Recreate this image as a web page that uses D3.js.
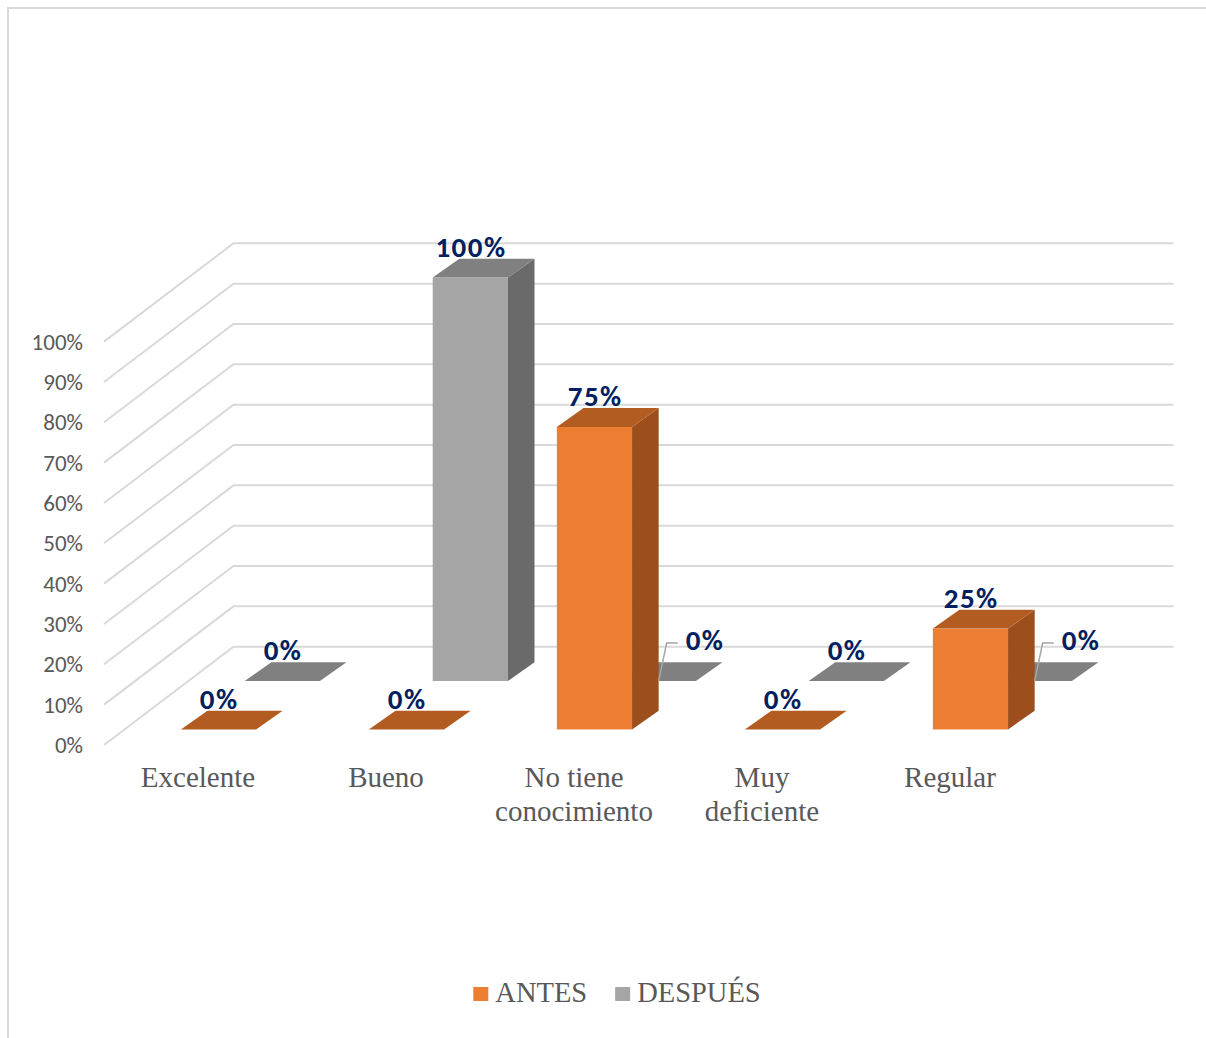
<!DOCTYPE html>
<html>
<head>
<meta charset="utf-8">
<script src="https://cdn.jsdelivr.net/npm/d3@7"></script>
<style>
  html, body { margin: 0; padding: 0; background: #ffffff; }
  svg { display: block; }
</style>
</head>
<body>
<svg id="chart" width="1206" height="1038"></svg>
<script>
// ---- data ----
const categories = ["Excelente", "Bueno", "No tiene conocimiento", "Muy deficiente", "Regular"];
const seriesNames = ["ANTES", "DESPUÉS"];
const antes   = [0, 0, 0.75, 0, 0.25];
const despues = [0, 1, 0, 0, 0];
const tickValues = [0, 0.1, 0.2, 0.3, 0.4, 0.5, 0.6, 0.7, 0.8, 0.9, 1.0];

// ---- look ----
const palette = {
  ANTES:   { front: "#ED7D31", side: "#9C4F1D", top: "#B35C22" },
  "DESPUÉS": { front: "#A5A5A5", side: "#6A6A6A", top: "#808080" }
};
const gridColor = "#D9D9D9";
const axisText = "#595959";
const valueText = "#002060";
const serif = "'Liberation Serif', 'Times New Roman', serif";
const sans = "Carlito, Calibri, Lato, sans-serif";

// ---- 3D frame (oblique projection) ----
const floorFrontY = 745;              // front edge of the floor
const floorX = [104, 1044];           // front edge extent
const depth = [129.5, -98.3];         // front edge -> back wall
const barDepth = [26.6, -18.8];       // thickness of each column
const rowZ = { ANTES: 0.158, "DESPUÉS": 0.651 };  // series rows, fraction of depth

const svg = d3.select("#chart");

// chart frame (runs off the right and bottom edges)
svg.append("rect")
  .attr("x", 8).attr("y", 8).attr("width", 1300).attr("height", 1100)
  .attr("fill", "#fff").attr("stroke", gridColor).attr("stroke-width", 2);

const x = d3.scaleBand().domain(categories).range(floorX)
  .paddingInner(0.6).paddingOuter(0.3);
const h = d3.scaleLinear().domain([0, 1]).range([0, 403.4]);

const proj = (xf, v, z) => [xf + z * depth[0], floorFrontY + z * depth[1] - h(v)];

// ---- walls: gridlines on back wall and left side wall ----
const grid = svg.append("g");
tickValues.forEach(t => {
  const front = proj(floorX[0], t, 0);
  const back = proj(floorX[0], t, 1);
  const backRight = proj(floorX[1], t, 1);
  grid.append("path")
    .attr("d", d3.line()([front, back, backRight]))
    .attr("fill", "none").attr("stroke", gridColor).attr("stroke-width", 2);
  grid.append("text")
    .attr("x", front[0] - 21).attr("y", front[1])
    .attr("dy", "0.35em").attr("text-anchor", "end")
    .attr("font-family", sans).attr("font-size", 23).attr("fill", axisText)
    .text(d3.format(".0%")(t));
});

// ---- columns ----
const seriesValues = { ANTES: antes, "DESPUÉS": despues };
function barGeom(series, i) {
  const v = seriesValues[series][i];
  const [x0, yb] = proj(x(categories[i]), 0, rowZ[series]);
  const w = x.bandwidth();
  const yt = yb - h(v);
  return { v, x0, x1: x0 + w, yb, yt, w };
}

function drawColumn(g, series, i) {
  const b = barGeom(series, i);
  const c = palette[series];
  const [dx, dy] = barDepth;
  if (b.v > 0) {
    g.append("rect").attr("x", b.x0).attr("y", b.yt).attr("width", b.w).attr("height", b.yb - b.yt)
      .attr("fill", c.front);
    g.append("path").attr("d", d3.line()([[b.x1, b.yb], [b.x1 + dx, b.yb + dy], [b.x1 + dx, b.yt + dy], [b.x1, b.yt]]) + "Z")
      .attr("fill", c.side);
  }
  g.append("path").attr("d", d3.line()([[b.x0, b.yt], [b.x0 + dx, b.yt + dy], [b.x1 + dx, b.yt + dy], [b.x1, b.yt]]) + "Z")
    .attr("fill", c.top);
}

const bars = svg.append("g");
// back row first, then front row
["DESPUÉS", "ANTES"].forEach(s => categories.forEach((_, i) => drawColumn(bars, s, i)));

// ---- value labels ----
const labels = svg.append("g")
  .attr("font-family", sans).attr("font-weight", "bold").attr("font-size", 29)
  .attr("letter-spacing", 1.5).attr("fill", valueText);
const pct = d3.format(".0%");
seriesNames.forEach(s => {
  categories.forEach((cat, i) => {
    const b = barGeom(s, i);
    const hidden = s === "DESPUÉS" && b.v === 0 && antes[i] > 0;
    if (hidden) {
      // label pulled out to the right with a leader line
      const front = barGeom("ANTES", i);
      const start = [front.x1 + barDepth[0], b.yb];
      const elbow = [start[0] + 8, start[1] - 38];
      const end = [elbow[0] + 11, elbow[1]];
      labels.append("path").attr("d", d3.line()([start, elbow, end]))
        .attr("fill", "none").attr("stroke", "#A6A6A6").attr("stroke-width", 1.5);
      labels.append("text").attr("x", end[0] + 8).attr("y", end[1] - 3).attr("dy", "0.35em")
        .text(pct(b.v));
    } else {
      labels.append("text")
        .attr("x", b.x0 + b.w / 2 + 0.75).attr("y", b.yt + barDepth[1] - 2)
        .attr("text-anchor", "middle")
        .text(pct(b.v));
    }
  });
});

// ---- category labels (wrapped) ----
const catG = svg.append("g").attr("font-family", serif).attr("font-size", 29).attr("fill", axisText);
categories.forEach(cat => {
  const t = catG.append("text").attr("text-anchor", "middle")
    .attr("x", x(cat) + x.bandwidth() / 2).attr("y", 787);
  const words = cat.split(" ");
  const maxW = x.step() * 0.9;
  let line = [];
  let ts = t.append("tspan").attr("x", x(cat) + x.bandwidth() / 2).attr("dy", 0);
  words.forEach(wd => {
    line.push(wd);
    ts.text(line.join(" "));
    if (ts.node().getComputedTextLength() > maxW && line.length > 1) {
      line.pop();
      ts.text(line.join(" "));
      line = [wd];
      ts = t.append("tspan").attr("x", x(cat) + x.bandwidth() / 2).attr("dy", 33.5).text(wd);
    }
  });
});

// ---- legend ----
const legend = svg.append("g").attr("font-family", serif).attr("font-size", 28.5).attr("fill", axisText);
let cursor = 0;
seriesNames.forEach(s => {
  const g = legend.append("g").attr("transform", `translate(${cursor},0)`);
  g.append("rect").attr("x", 0).attr("y", -15).attr("width", 15).attr("height", 14).attr("fill", palette[s].front);
  const tx = g.append("text").attr("x", 22).attr("y", 0).text(s);
  const wTxt = tx.node().getComputedTextLength();
  cursor += 22 + wTxt + 28;
});
const legendW = cursor - 28;
legend.attr("transform", `translate(${617 - legendW / 2},1002)`);
</script>
</body>
</html>
